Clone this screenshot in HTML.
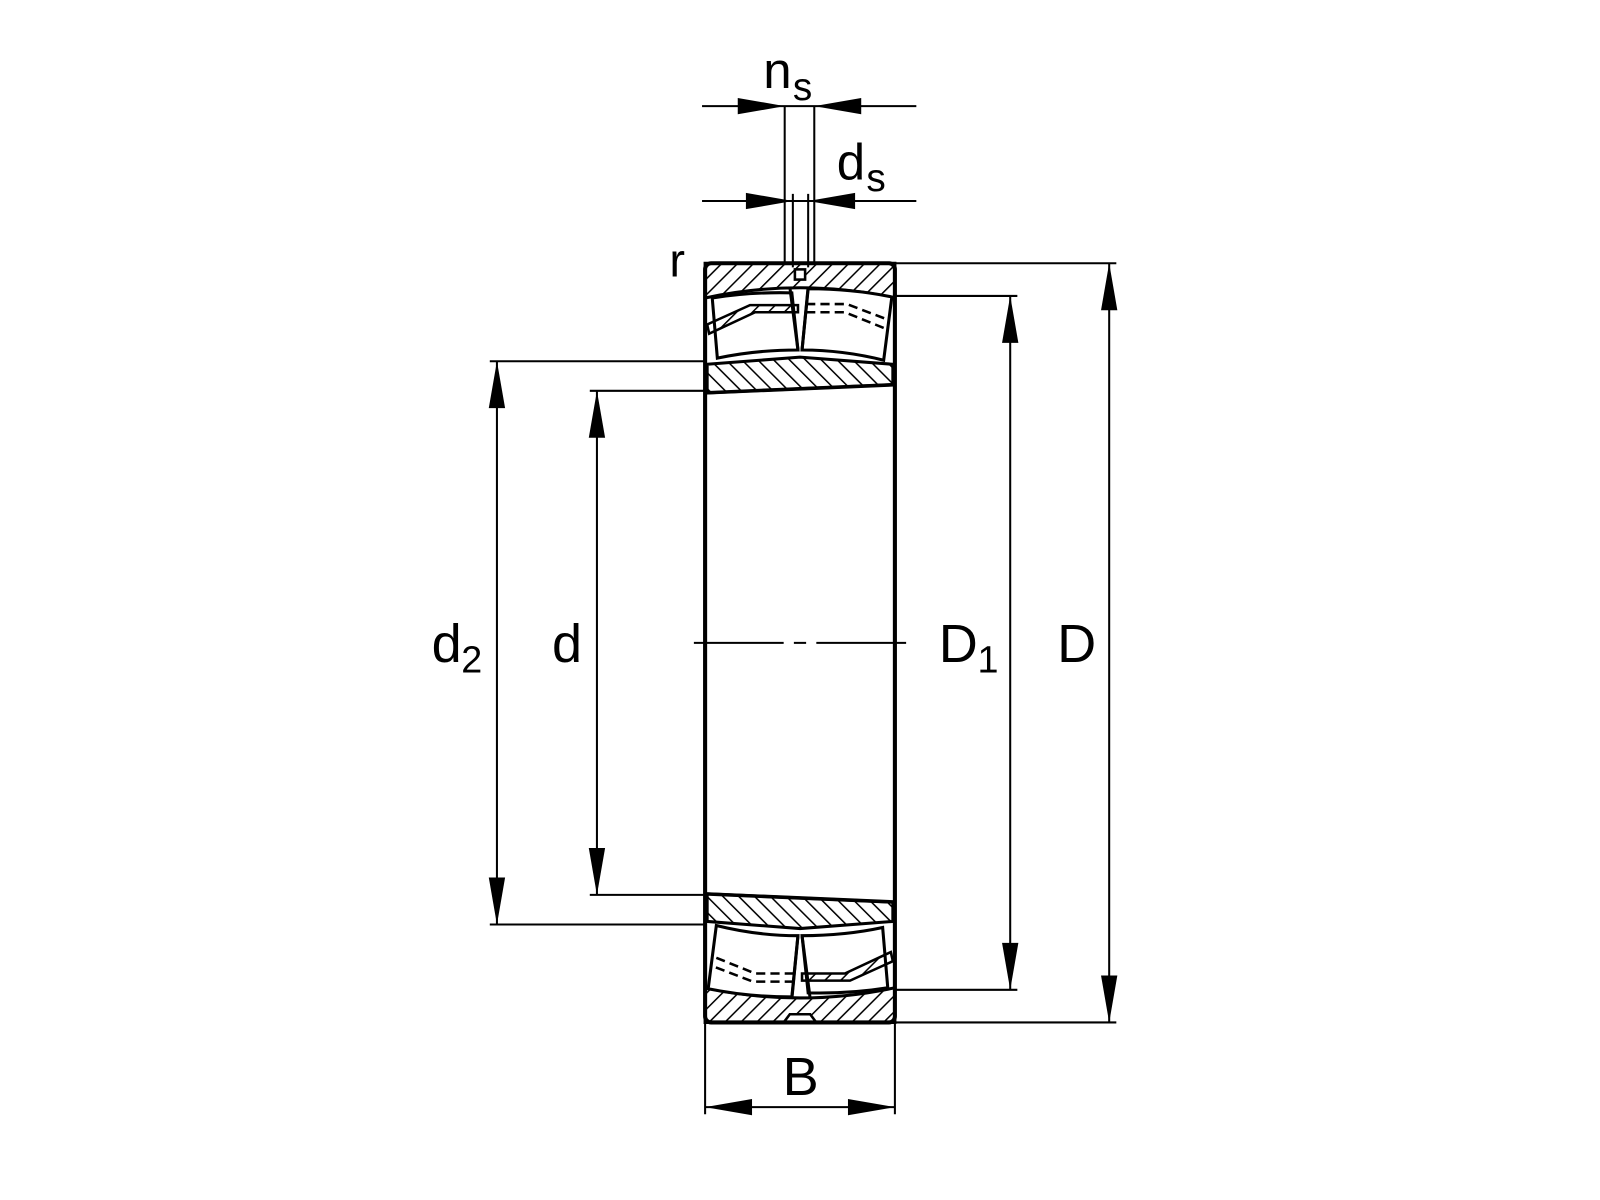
<!DOCTYPE html>
<html><head><meta charset="utf-8"><style>
html,body{margin:0;padding:0;background:#fff;}
svg{display:block}
text{font-family:"Liberation Sans",sans-serif;fill:#000}
</style></head><body>
<svg width="1600" height="1200" viewBox="0 0 1568 1176" xmlns="http://www.w3.org/2000/svg">
<defs>
<pattern id="hf" patternUnits="userSpaceOnUse" width="11" height="11" patternTransform="rotate(45)">
<line x1="0" y1="0" x2="0" y2="11" stroke="#000" stroke-width="3"/></pattern>
<pattern id="hb" patternUnits="userSpaceOnUse" width="11" height="11" patternTransform="rotate(-45)">
<line x1="0" y1="0" x2="0" y2="11" stroke="#000" stroke-width="3"/></pattern>
<g id="rol">
 <path d="M698,292 Q735,286 776,287 L782,343 Q740,343 703,351 Z" fill="#fff" stroke="#000" stroke-width="3"/>
 <path d="M792,283 Q835,283 874,291 L866,353 Q826,343 786,343 Z" fill="#fff" stroke="#000" stroke-width="3"/>
 <line x1="774" y1="281" x2="782" y2="343" stroke="#000" stroke-width="3"/>
 <line x1="792" y1="281" x2="786" y2="343" stroke="#000" stroke-width="3"/>
 <path d="M693,318 L735,299 L782,299 L782,306 L740,306 L695,327 Z" fill="url(#hf)" stroke="#000" stroke-width="2.5"/>
 <path d="M790,298 L830,298 L872,314" fill="none" stroke="#000" stroke-width="2.5" stroke-dasharray="9,5"/>
 <path d="M790,306 L828,306 L870,323" fill="none" stroke="#000" stroke-width="2.5" stroke-dasharray="9,5"/>
</g>
</defs>

<path d="M691,258 H877 V292 Q784,272 691,292 Z" fill="url(#hf)" stroke="#000" stroke-width="3"/>
<rect x="779" y="264" width="10" height="10" fill="#fff" stroke="#000" stroke-width="2.5"/>
<path d="M691,1002 H877 V968 Q784,988 691,968 Z" fill="url(#hf)" stroke="#000" stroke-width="3"/>
<path d="M768,1002 L774,994 H794 L800,1002 Z" fill="#fff" stroke="#000" stroke-width="2.5"/>
<path d="M693,357 L784,350 L875,357 V377 L693,385 Z" fill="url(#hb)" stroke="#000" stroke-width="3"/>
<path d="M693,903 L784,910 L875,903 V884 L693,876 Z" fill="url(#hb)" stroke="#000" stroke-width="3"/>

<use href="#rol"/>
<use href="#rol" transform="rotate(180 784 630)"/>

<rect x="691" y="258" width="186" height="744" rx="6" fill="none" stroke="#000" stroke-width="4"/>
<line x1="691" y1="385" x2="877" y2="377" stroke="#000" stroke-width="3.5"/>
<line x1="691" y1="876" x2="877" y2="884" stroke="#000" stroke-width="3.5"/>

<path d="M680,630 H768 M778,630 H790 M800,630 H888" stroke="#000" stroke-width="2"/>

<g stroke="#000" stroke-width="2" fill="none">
 <line x1="480" y1="354" x2="691" y2="354"/><line x1="480" y1="906" x2="691" y2="906"/>
 <line x1="487" y1="354" x2="487" y2="906"/>
 <line x1="578" y1="383" x2="693" y2="383"/><line x1="578" y1="877" x2="693" y2="877"/>
 <line x1="585" y1="383" x2="585" y2="877"/>
 <line x1="877" y1="290" x2="997" y2="290"/><line x1="877" y1="970" x2="997" y2="970"/>
 <line x1="990" y1="290" x2="990" y2="970"/>
 <line x1="877" y1="258" x2="1094" y2="258"/><line x1="877" y1="1002" x2="1094" y2="1002"/>
 <line x1="1087" y1="258" x2="1087" y2="1002"/>
 <line x1="691" y1="1002" x2="691" y2="1092"/><line x1="877" y1="1002" x2="877" y2="1092"/>
 <line x1="691" y1="1085" x2="877" y2="1085"/>
 <line x1="769" y1="104" x2="769" y2="258"/><line x1="798" y1="104" x2="798" y2="258"/>
 <line x1="688" y1="104" x2="898" y2="104"/>
 <line x1="777" y1="190" x2="777" y2="262"/><line x1="792" y1="190" x2="792" y2="262"/>
 <line x1="688" y1="197" x2="898" y2="197"/>
</g>

<g fill="#000">
 <polygon points="487,354 479,400 495,400"/><polygon points="487,906 479,860 495,860"/>
 <polygon points="585,383 577,429 593,429"/><polygon points="585,877 577,831 593,831"/>
 <polygon points="990,290 982,336 998,336"/><polygon points="990,970 982,924 998,924"/>
 <polygon points="1087,258 1079,304 1095,304"/><polygon points="1087,1002 1079,956 1095,956"/>
 <polygon points="691,1085 737,1077 737,1093"/><polygon points="877,1085 831,1077 831,1093"/>
 <polygon points="769,104 723,96 723,112"/><polygon points="798,104 844,96 844,112"/>
 <polygon points="777,197 731,189 731,205"/><polygon points="792,197 838,189 838,205"/>
</g>

<text x="423" y="649" font-size="53">d</text><text x="452" y="659" font-size="37">2</text>
<text x="541" y="649" font-size="53">d</text>
<text x="920" y="649" font-size="53">D</text><text x="958" y="659" font-size="37">1</text>
<text x="1036" y="649" font-size="53">D</text>
<text x="767" y="1073" font-size="53">B</text>
<text x="656" y="271" font-size="46">r</text>
<text x="748" y="86" font-size="50">n</text><text x="777" y="98" font-size="38">s</text>
<text x="820" y="176" font-size="50">d</text><text x="849" y="187" font-size="38">s</text>
</svg>
</body></html>
